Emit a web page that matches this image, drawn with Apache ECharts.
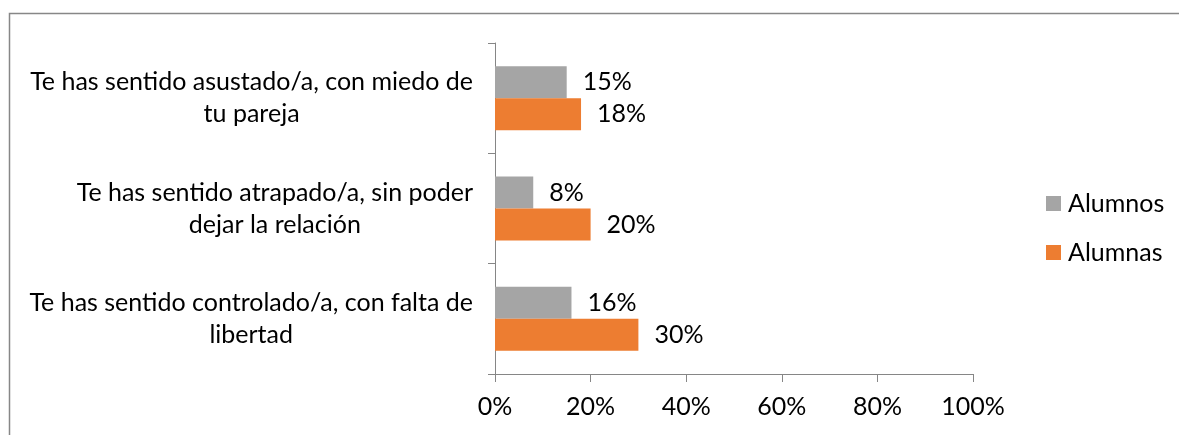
<!DOCTYPE html>
<html>
<head>
<meta charset="utf-8">
<script src="https://cdn.jsdelivr.net/npm/echarts@6/dist/echarts.min.js"></script>
<style>
html, body { margin: 0; padding: 0; background: #fff; }
#main { width: 1179px; height: 435px; }
</style>
</head>
<body>
<div id="main"></div>
<script>
var categories = [
	'Te has sentido asustado/a, con miedo de\ntu pareja',
	'Te has sentido atrapado/a, sin poder\ndejar la relación',
	'Te has sentido controlado/a, con falta de\nlibertad'
];
var seriesNames = ['Alumnos', 'Alumnas'];
var alumnos = [15, 8, 16];
var alumnas = [18, 20, 30];

var font = 'Lato';
var fs = 25;
var myChart = echarts.init(document.getElementById('main'));

// cada linea centrada dentro del bloque, bloque alineado a la derecha
var labelFormatter = function (val) {
	return val.split('\n').map(function (l) { return '{c|' + l + '}'; }).join('\n');
};

var option = {
	backgroundColor: '#fff',
	animation: false,
	textStyle: { fontFamily: font },
	graphic: [{
		type: 'rect',
		shape: { x: 9.5, y: 13.5, width: 1400, height: 600 },
		style: { fill: 'none', stroke: '#878787', lineWidth: 1.5 },
		silent: true
	}],
	legend: {
		orient: 'vertical',
		left: 1041,
		top: 186,
		itemWidth: 15,
		itemHeight: 15,
		itemGap: 24,
		icon: 'rect',
		textStyle: { fontFamily: font, fontSize: fs, lineHeight: 25, color: '#000', padding: [0, 0, 0, 2] },
		data: seriesNames
	},
	grid: { left: 495, right: 206, top: 43, bottom: 61 },
	xAxis: {
		type: 'value',
		min: 0,
		max: 100,
		interval: 20,
		axisLine: { show: true, lineStyle: { color: '#868686', width: 1 } },
		axisTick: { show: true, length: 8, lineStyle: { color: '#868686' } },
		splitLine: { show: false },
		axisLabel: { formatter: '{value}%', fontFamily: font, fontSize: fs, color: '#000', margin: 20 }
	},
	yAxis: {
		type: 'category',
		inverse: true,
		data: categories,
		axisLine: { show: true, lineStyle: { color: '#868686', width: 1 } },
		axisTick: { show: true, length: 7, lineStyle: { color: '#868686' } },
		axisLabel: {
			margin: 22,
			formatter: labelFormatter,
			rich: { c: { align: 'center', fontFamily: font, fontSize: fs, color: '#000', lineHeight: 32 } }
		}
	},
	series: [{
		name: seriesNames[0],
		type: 'bar',
		data: alumnos,
		barGap: '0%',
		barCategoryGap: '42%',
		itemStyle: { color: '#A5A5A5' },
		label: { show: true, position: 'right', distance: 16, formatter: '{c}%', fontFamily: font, fontSize: fs, color: '#000' }
	}, {
		name: seriesNames[1],
		type: 'bar',
		data: alumnas,
		barGap: '0%',
		barCategoryGap: '42%',
		itemStyle: { color: '#ED7D31' },
		label: { show: true, position: 'right', distance: 16, formatter: '{c}%', fontFamily: font, fontSize: fs, color: '#000' }
	}]
};
myChart.setOption(option);
</script>
</body>
</html>
